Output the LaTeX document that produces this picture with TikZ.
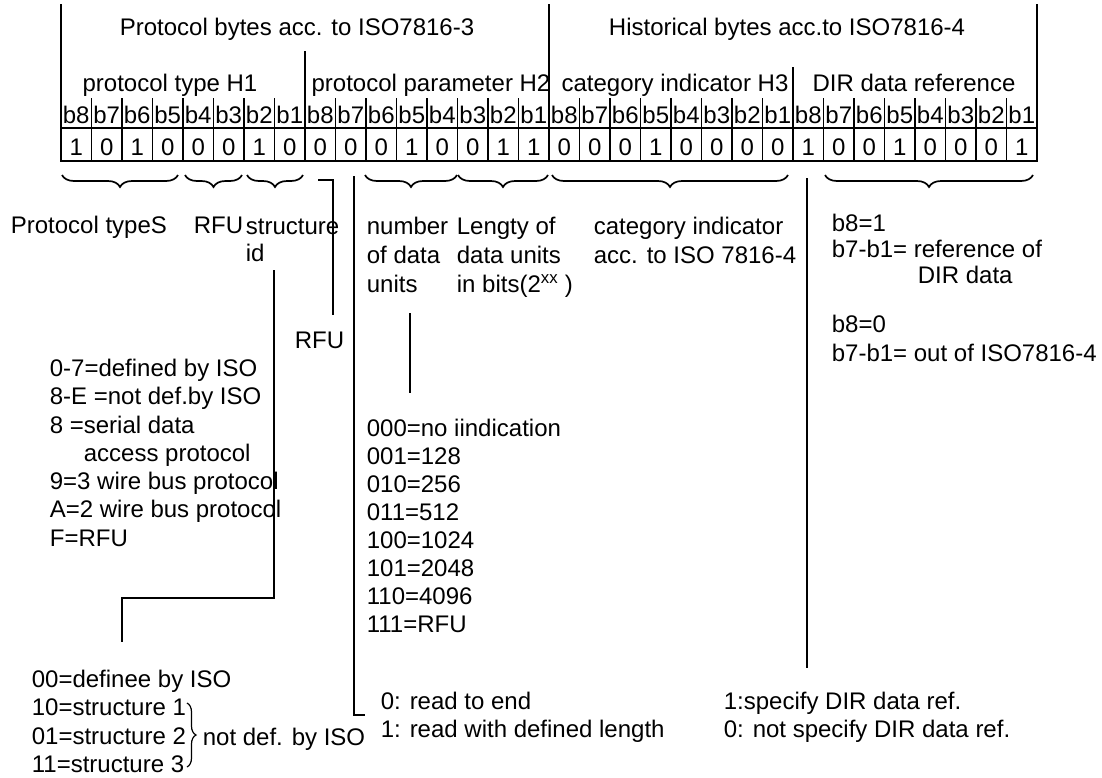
\documentclass[tikz,border=0pt]{standalone}
\usepackage{fontspec}
\setmainfont{Liberation Sans}
\usetikzlibrary{decorations.pathreplacing}
\begin{document}
\begin{tikzpicture}[x=1pt,y=-1pt,line width=1.7pt,
  t/.style={inner sep=0pt,font=\fontsize{24}{28}\selectfont,text height=17.2pt,text depth=0pt},
  blk/.style={inner sep=0pt,align=left,anchor=north west,font=\fontsize{24}{#1}\selectfont},
  blk/.default=28,
  brc/.style={decorate,decoration={brace,mirror,amplitude=12pt}},
  conn/.style={line width=1.7pt}]
\useasboundingbox (0,0) rectangle (1102,777);
% ---- table ----
\foreach \i in {1,...,31}{
  \pgfmathsetmacro\xx{61+30.5*\i}
  \draw (\xx,98) -- (\xx,161);
}
\draw (61,128) -- (1037,128);
\draw (60.15,161) -- (1037.85,161);
\draw (61,4) -- (61,161);
\draw (549,4) -- (549,161);
\draw (1037,4) -- (1037,161);
\draw (305,51) -- (305,161);
\draw (793,67) -- (793,161);
\foreach \i in {0,...,31}{
  \pgfmathsetmacro\xx{61+30.5*(\i+0.5)}
  \pgfmathtruncatemacro\bb{8-mod(\i,8)}
  \node[t] (bl\i) at (\xx,115) {b\bb};
}
\foreach \v [count=\i from 0] in {1,0,1,0,0,0,1,0, 0,0,0,1,0,0,1,1, 0,0,0,1,0,0,0,0, 1,0,0,1,0,0,0,1}{
  \pgfmathsetmacro\xx{61+30.5*(\i+0.5)}
  \node[t] (v\i) at (\xx,147) {\v};
}
% ---- headings ----
\node[t] (sec1) at (297,27) {Protocol bytes acc. to ISO7816-3};
\node[t] (sec2) at (787,27) {Historical bytes acc.to ISO7816-4};
\node[t] (h1) at (170,83) {protocol type H1};
\node[t] (h2) at (431,83) {protocol parameter H2};
\node[t] (h3) at (675,83) {category indicator H3};
\node[t] (h4) at (914,83) {DIR data reference};
% ---- braces ----
\draw[brc] (62,175) -- (178,175);
\draw[brc] (185,175) -- (242,175);
\draw[brc] (247,175) -- (303,175);
\draw[brc] (365,175) -- (457,175);
\draw[brc] (458,175) -- (548,175);
\draw[brc] (552,175) -- (788,175);
\draw[brc] (825,175) -- (1033,175);
% ---- labels ----
\node[t,anchor=west] (ptype) at (10,225) {Protocol typeS};
\node[t,anchor=west] (rfu1) at (193,225) {RFU};
\node[blk=27] (sid) at (245,214.7) {\strut structure\\id};
\node[t,anchor=west] (rfu2) at (294,340) {RFU};
\node[blk=29] (ndu) at (366,213.3) {\strut number\\of data\\units};
\node[blk=29] (len) at (456,213.3) {\strut Lengty of\\data units\\in bits(2\textsuperscript{xx} )};
\node[blk=29] (cat) at (593,213.3) {\strut category indicator\\acc. to ISO 7816-4};
\node[blk=26] (dir1) at (831,212.4) {\strut b8=1\\b7-b1= reference of\\\hspace*{86pt}DIR data};
\node[blk=29] (dir0) at (831,311.3) {\strut b8=0\\b7-b1= out of ISO7816-4};
\node[blk=28.3] (plist) at (49,355.8) {\strut 0-7=defined by ISO\\8-E =not def.by ISO\\8 =serial data\\\hspace*{34pt}access protocol\\9=3 wire bus protocol\\A=2 wire bus protocol\\F=RFU};
\node[blk=28] (nlist) at (366,416) {\strut 000=no iindication\\001=128\\010=256\\011=512\\100=1024\\101=2048\\110=4096\\111=RFU};
\node[blk=28] (read) at (380,689) {\strut 0: read to end\\1: read with defined length};
\node[blk=28] (spec) at (723,689) {\strut 1:specify DIR data ref.\\0: not specify DIR data ref.};
\node[blk=28.3] (slist) at (31,666.8) {\strut 00=definee by ISO\\10=structure 1\\01=structure 2\\11=structure 3};
\node[t,anchor=west] (ndef) at (202,737) {not def. by ISO};
\draw[decorate,decoration={brace,amplitude=9pt},line width=1.2pt] (187,703) -- (187,767);
% ---- connector lines ----
\coordinate (rfuA) at (318,180);
\coordinate (rfuB) at (333,180);
\coordinate (rfuC) at (333,315);
\draw[conn] (rfuA) -- (rfuB) -- (rfuC);
\coordinate (lenA) at (354,176);
\coordinate (lenB) at (354,715);
\coordinate (lenC) at (365,715);
\draw[conn] (lenA) -- (lenB) -- (lenC);
\coordinate (ndA) at (410,313);
\coordinate (ndB) at (410,393);
\draw[conn] (ndA) -- (ndB);
\coordinate (stA) at (274,270);
\coordinate (stB) at (274,598);
\coordinate (stC) at (122,598);
\coordinate (stD) at (122,642);
\draw[conn] (stA) -- (stB) -- (stC) -- (stD);
\coordinate (drA) at (807,178);
\coordinate (drB) at (807,668);
\draw[conn] (drA) -- (drB);
\end{tikzpicture}
\end{document}
